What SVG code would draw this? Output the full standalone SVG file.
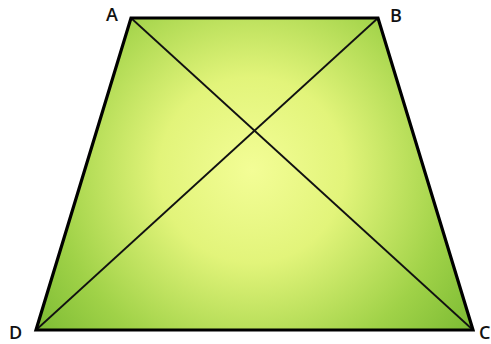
<svg xmlns="http://www.w3.org/2000/svg" width="491" height="344" viewBox="0 0 491 344">
<defs>
<radialGradient id="g" gradientUnits="userSpaceOnUse" cx="252" cy="170" r="265">
<stop offset="0" stop-color="#f3fd96"/>
<stop offset="0.35" stop-color="#e2f47a"/>
<stop offset="0.75" stop-color="#a0d248"/>
<stop offset="1" stop-color="#7fbd35"/>
</radialGradient>
<style>
.lbl{font-family:"Open Sans","Liberation Sans",sans-serif;font-size:18px;font-weight:600;fill:#111}
.edge{fill:none;stroke:#000;stroke-width:3.2;stroke-linejoin:miter}
.diag{stroke:#111;stroke-width:1.8}
</style>
</defs>
<rect width="491" height="344" fill="#fff"/>
<g id="shape">
<polygon points="131,18 378,18 473,330 36,330" fill="url(#g)"/>
</g>
<g id="connectors">
<line class="diag" x1="131" y1="18" x2="473" y2="330"/>
<line class="diag" x1="378" y1="18" x2="36" y2="330"/>
<polygon class="edge" points="131,18 378,18 473,330 36,330"/>
</g>
<g id="A"><text class="lbl" x="106" y="21">A</text></g>
<g id="B"><text class="lbl" x="390" y="22">B</text></g>
<g id="C"><text class="lbl" x="479" y="339">C</text></g>
<g id="D"><text class="lbl" x="9" y="339">D</text></g>
</svg>
